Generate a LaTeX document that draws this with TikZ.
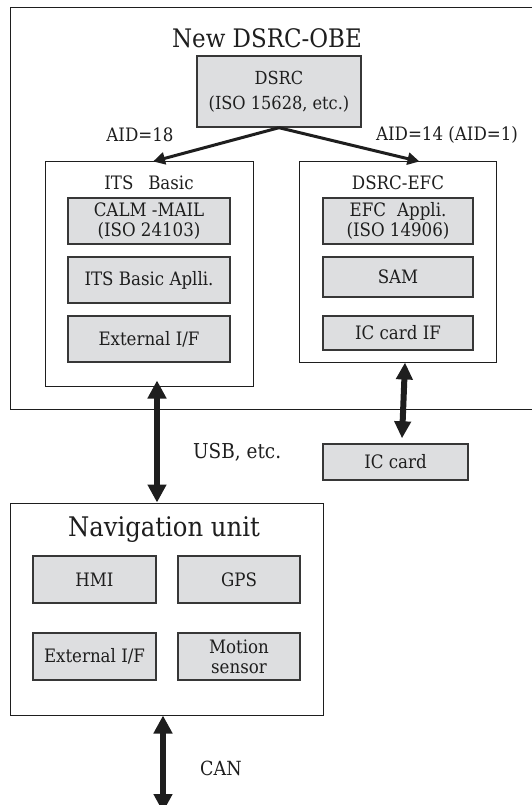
\documentclass[tikz,border=0pt]{standalone}
\usepackage{fontspec}
\setmainfont{DejaVu Serif Condensed}
\usetikzlibrary{arrows.meta,positioning}
\definecolor{boxfill}{RGB}{221,222,224}
\definecolor{boxline}{RGB}{55,55,55}
\definecolor{ink}{RGB}{30,30,30}
\begin{document}
\begin{tikzpicture}[x=1pt,y=-1pt,
  container/.style={draw=ink,line width=1pt,inner sep=0pt},
  graybox/.style={draw=boxline,fill=boxfill,line width=1.4pt,inner sep=0pt,align=center,
    font=\fontsize{18.5}{20}\selectfont,text=ink},
  lbl/.style={inner sep=0pt,text=ink,font=\fontsize{18.5}{20}\selectfont},
  thinarr/.style={draw=ink,line width=3pt,-{Triangle[width=12pt,length=12pt]}},
  dblarr/.style={draw=ink,line width=6.5pt,{Triangle[width=18pt,length=18pt]}-{Triangle[width=18pt,length=18pt]}},
  dblarrs/.style={draw=ink,line width=6pt,{Triangle[width=16pt,length=17pt]}-{Triangle[width=16pt,length=17pt]}}
]
\useasboundingbox (0,0) rectangle (531,805);
\fill[white] (0,0) rectangle (531,805);

% outer DSRC-OBE container
\node[container,minimum width=535pt,minimum height=401pt] (outer) at (277.5,208.5) {};
\node[lbl,font=\fontsize{25.5}{27}\selectfont] (title) at (267,38) {New DSRC-OBE};

\node[graybox,minimum width=164pt,minimum height=71pt,font=\fontsize{18}{25}\selectfont] (dsrc) at (279,91.5) {DSRC\\(ISO 15628, etc.)};

\node[lbl] (aid18) at (140,135) {AID=18};
\node[lbl] (aid14) at (447,135) {AID=14 (AID=1)};

% ITS Basic
\node[container,minimum width=208pt,minimum height=224pt] (its) at (149,274) {};
\node[lbl] (itslabel) at (149,183) {ITS\hspace{0.8em}Basic};
\node[graybox,minimum width=162pt,minimum height=46pt] (calm) at (149,221) {CALM -MAIL\\(ISO 24103)};
\node[graybox,minimum width=162pt,minimum height=46pt] (itsapp) at (149,280) {ITS Basic Aplli.};
\node[graybox,minimum width=162pt,minimum height=46pt] (ext1) at (149,339) {External I/F};

% DSRC-EFC
\node[container,minimum width=197pt,minimum height=200pt] (efc) at (397.5,262) {};
\node[lbl] (efclabel) at (398,183) {DSRC-EFC};
\node[graybox,minimum width=150pt,minimum height=46pt] (efcapp) at (398,221) {EFC\hspace{0.6em}Appli.\\(ISO 14906)};
\node[graybox,minimum width=150pt,minimum height=40pt] (sam) at (398,277) {SAM};
\node[graybox,minimum width=150pt,minimum height=34pt] (icif) at (398,333) {IC card IF};

% IC card
\node[graybox,minimum width=145pt,minimum height=36pt] (iccard) at (395.5,462) {IC card};

\node[lbl,anchor=west,font=\fontsize{20.5}{22}\selectfont] (usb) at (193,452) {USB, etc.};

% Navigation unit
\node[container,minimum width=313pt,minimum height=212pt] (nav) at (166.5,609) {};
\node[lbl,font=\fontsize{27}{29}\selectfont] (navlabel) at (164,530) {Navigation unit};
\node[graybox,minimum width=123pt,minimum height=47pt] (hmi) at (94.5,579.5) {HMI};
\node[graybox,minimum width=122pt,minimum height=47pt] (gps) at (239,579.5) {GPS};
\node[graybox,minimum width=123pt,minimum height=47pt] (ext2) at (94.5,656.5) {External I/F};
\node[graybox,minimum width=122pt,minimum height=47pt] (motion) at (239,656.5) {Motion\\sensor};

\node[lbl,anchor=west,font=\fontsize{19.5}{21}\selectfont] (can) at (200,768) {CAN};
\coordinate (canend) at (163,812);

% connectors
\draw[thinarr] (dsrc.south) -- ([xshift=4pt]its.north);
\draw[thinarr] (dsrc.south) -- ([xshift=22pt]efc.north);
\draw[dblarr] ([xshift=8pt,yshift=6pt]its.south) -- ([xshift=-9.5pt]nav.north);
\draw[dblarrs] ([xshift=7.5pt]efc.south) -- ([xshift=6.5pt,yshift=5pt]iccard.north);
\draw[dblarr] ([xshift=-3.5pt]nav.south) -- (canend);
\end{tikzpicture}
\end{document}
